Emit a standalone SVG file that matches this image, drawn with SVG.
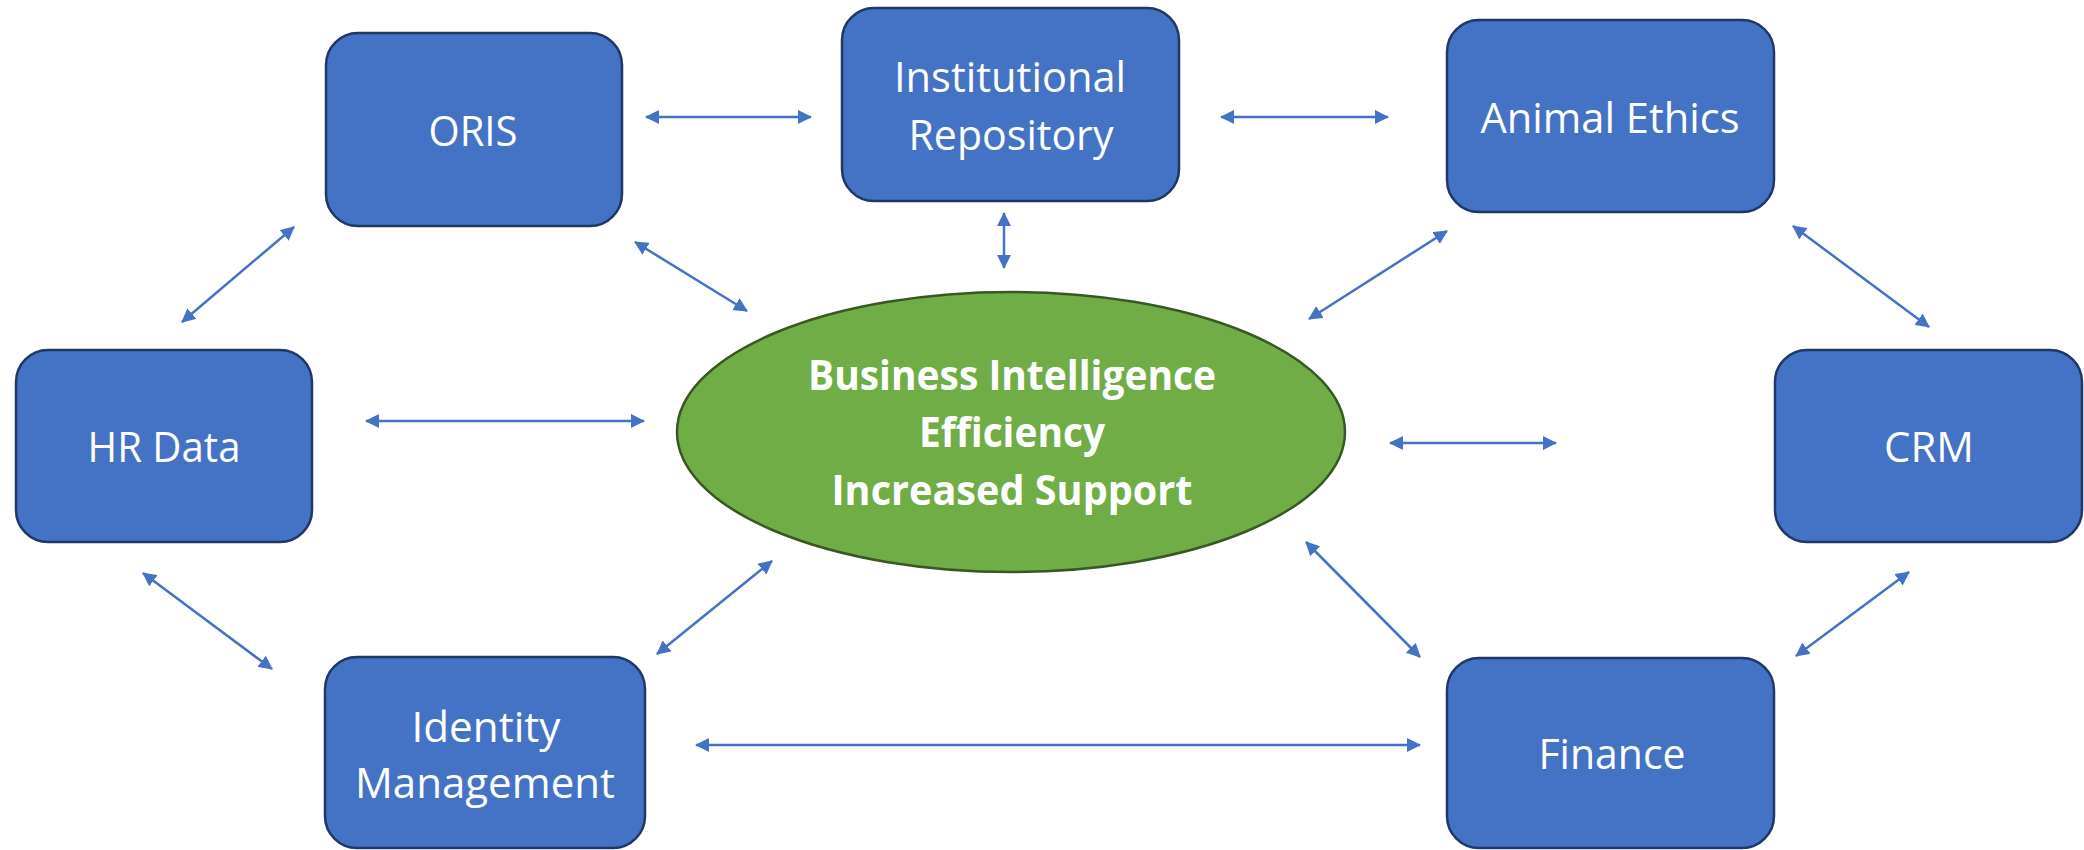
<svg xmlns="http://www.w3.org/2000/svg" width="2084" height="850" viewBox="0 0 2084 850">
<style>
.box{fill:#4472C4;stroke:#1F3864;stroke-width:2.5}
.lbl{font-family:"Open Sans","Liberation Sans",sans-serif;font-size:42px;fill:#FFFFFF;text-anchor:middle}
.blbl{font-family:"Open Sans","Liberation Sans",sans-serif;font-size:41px;font-weight:bold;fill:#FFFFFF;text-anchor:middle}
.con{stroke:#4472C4;stroke-width:2.5;fill:none;marker-start:url(#ah);marker-end:url(#ah)}
</style>
<defs>
<marker id="ah" viewBox="0 0 14 14" refX="13" refY="7" markerWidth="14" markerHeight="14" markerUnits="userSpaceOnUse" orient="auto-start-reverse">
<path d="M0,0 L14,7 L0,14 z" fill="#4472C4"/>
</marker>
</defs>
<rect width="2084" height="850" fill="#FFFFFF"/>
<g id="connectors">
<line class="con" x1="646" y1="117" x2="811" y2="117"/>
<line class="con" x1="1221" y1="117" x2="1388" y2="117"/>
<line class="con" x1="1004" y1="213" x2="1004" y2="268"/>
<line class="con" x1="635" y1="242" x2="747" y2="311"/>
<line class="con" x1="1447" y1="231" x2="1309" y2="319"/>
<line class="con" x1="1793" y1="226" x2="1929" y2="327"/>
<line class="con" x1="294" y1="227" x2="182" y2="322"/>
<line class="con" x1="366" y1="421" x2="644" y2="421"/>
<line class="con" x1="1390" y1="443" x2="1556" y2="443"/>
<line class="con" x1="143" y1="573" x2="272" y2="669"/>
<line class="con" x1="657" y1="654" x2="772" y2="561"/>
<line class="con" x1="1306" y1="542" x2="1420" y2="657"/>
<line class="con" x1="1909" y1="572" x2="1796" y2="656"/>
<line class="con" x1="696" y1="745" x2="1420" y2="745"/>
</g>
<g id="oris">
<rect class="box" x="326" y="33" width="296" height="193" rx="32" ry="32"/>
<text class="lbl" x="473" y="146" textLength="89" lengthAdjust="spacingAndGlyphs">ORIS</text>
</g>
<g id="institutional-repository">
<rect class="box" x="842" y="8" width="337" height="193" rx="32" ry="32"/>
<text class="lbl" x="1010" y="92" textLength="232" lengthAdjust="spacingAndGlyphs">Institutional</text>
<text class="lbl" x="1011" y="150" textLength="205" lengthAdjust="spacingAndGlyphs">Repository</text>
</g>
<g id="animal-ethics">
<rect class="box" x="1447" y="20" width="327" height="192" rx="32" ry="32"/>
<text class="lbl" x="1610" y="133" textLength="259" lengthAdjust="spacingAndGlyphs">Animal Ethics</text>
</g>
<g id="hr-data">
<rect class="box" x="16" y="350" width="296" height="192" rx="32" ry="32"/>
<text class="lbl" x="164" y="462" textLength="153" lengthAdjust="spacingAndGlyphs">HR Data</text>
</g>
<g id="crm">
<rect class="box" x="1775" y="350" width="307" height="192" rx="32" ry="32"/>
<text class="lbl" x="1929" y="462" textLength="90" lengthAdjust="spacingAndGlyphs">CRM</text>
</g>
<g id="identity-management">
<rect class="box" x="325" y="657" width="320" height="191" rx="32" ry="32"/>
<text class="lbl" x="486" y="742" textLength="149" lengthAdjust="spacingAndGlyphs">Identity</text>
<text class="lbl" x="485" y="798" textLength="260" lengthAdjust="spacingAndGlyphs">Management</text>
</g>
<g id="finance">
<rect class="box" x="1447" y="658" width="327" height="190" rx="32" ry="32"/>
<text class="lbl" x="1612" y="769" textLength="147" lengthAdjust="spacingAndGlyphs">Finance</text>
</g>
<g id="business-intelligence">
<ellipse cx="1011" cy="432" rx="334" ry="140" fill="#70AD47" stroke="#385723" stroke-width="2.5"/>
<text class="blbl" x="1012" y="390" textLength="408" lengthAdjust="spacingAndGlyphs">Business Intelligence</text>
<text class="blbl" x="1012" y="447" textLength="186" lengthAdjust="spacingAndGlyphs">Efficiency</text>
<text class="blbl" x="1012" y="505" textLength="361" lengthAdjust="spacingAndGlyphs">Increased Support</text>
</g>
</svg>
